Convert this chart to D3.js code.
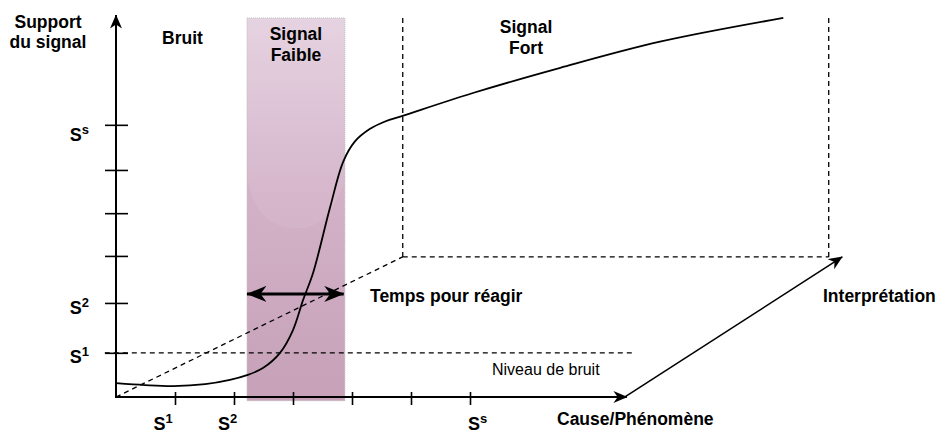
<!DOCTYPE html>
<html><head><meta charset="utf-8">
<script src="https://cdn.jsdelivr.net/npm/d3@7"></script>
<style>
body{margin:0;background:#fff}
text{font-family:"Liberation Sans",Arial,Helvetica,sans-serif;fill:#000}
</style>
</head><body>
<svg id="c" width="937" height="434"></svg>
<script>
// ---- data (abstract units) ----
const curveX = [0, 0.49, 0.97, 1.51, 1.93, 2.22, 2.49, 2.78, 3.0, 3.17, 3.34, 3.63, 3.85, 4.05, 4.3, 4.56, 4.86, 6.05, 7.53, 9.22, 11.31];
const curveY = [0.29, 0.25, 0.23, 0.27, 0.36, 0.46, 0.61, 0.93, 1.41, 2.04, 2.61, 4.0, 4.95, 5.38, 5.64, 5.8, 5.92, 6.4, 6.93, 7.48, 7.98];
const xTickValues = [1, 2, 3, 4, 5, 6];
const yTickValues = [0.93, 1.98, 2.97, 3.87, 4.78, 5.73];
const xLabelBase = ["S", "S", "S"];
const xLabelSup = ["1", "2", "s"];
const xLabelPos = [0.8, 1.89, 6.13];
const yLabelBase = ["S", "S", "S"];
const yLabelSup = ["1", "2", "s"];
const yLabelPos = [0.84, 1.87, 5.52];
const weakBand = [2.22, 3.88];
const bandTop = 7.98;
const noiseLevel = 0.93;
const noiseEnd = 8.8;
const cornerX = 4.86, cornerY = 2.95;
const interpX = 12.08;
const dashTop = 7.98;
const xAxisEnd = 8.66;
const yAxisEnd = 8.04;
const diagStart = [8.6, -0.02];
const diagEnd = [12.31, 2.95];
const reactY = 2.17;
const reactSpan = [2.22, 3.86];

// ---- scales ----
const x = d3.scaleLinear().domain([0, 14]).range([116, 942]);
const y = d3.scaleLinear().domain([0, 8]).range([397, 17]);

const svg = d3.select("#c");
const defs = svg.append("defs");

function marker(id, w, l) {
  defs.append("marker").attr("id", id).attr("viewBox", `0 0 ${l} ${w}`)
    .attr("refX", l - 0.5).attr("refY", w / 2)
    .attr("markerWidth", l).attr("markerHeight", w)
    .attr("markerUnits", "userSpaceOnUse").attr("orient", "auto-start-reverse")
    .append("path").attr("d", `M0,0 L${l},${w/2} L0,${w} L${l*0.3},${w/2} Z`).attr("fill", "#000");
}
marker("ah", 12, 14);
marker("ahBig", 16, 20);

const grad = defs.append("linearGradient").attr("id", "pg").attr("x1", 0).attr("x2", 0).attr("y1", 0).attr("y2", 1);
grad.append("stop").attr("offset", "0%").attr("stop-color", "#e4d0df");
grad.append("stop").attr("offset", "45%").attr("stop-color", "#d3b2c8");
grad.append("stop").attr("offset", "100%").attr("stop-color", "#c6a1b8");

// ---- weak signal band ----
const bx0 = x(weakBand[0]), bx1 = x(weakBand[1]);
svg.append("rect").attr("x", bx0).attr("y", y(bandTop)).attr("width", bx1 - bx0)
  .attr("height", y(-0.08) - y(bandTop)).attr("fill", "url(#pg)")
  .attr("stroke", "#c4c4c4").attr("stroke-width", 1).attr("stroke-dasharray", "1,1");
// glossy lobe
const gTop = y(bandTop), gBot = y(3.56), gMid = y(4.5);
svg.append("path")
  .attr("d", `M${bx0+1},${gTop+1} L${bx1-1},${gTop+1} L${bx1-1},${gMid} Q${(bx0+bx1)/2+30},${gBot+4} ${(bx0+bx1)/2},${gBot} Q${bx0+10},${gBot} ${bx0+1},${gMid-2} Z`)
  .attr("fill", "#ffffff").attr("opacity", 0.07);

// ---- dashed guides ----
const dash = "5,4";
const dashed = (x1, y1, x2, y2) => svg.append("line")
  .attr("x1", x(x1)).attr("y1", y(y1)).attr("x2", x(x2)).attr("y2", y(y2))
  .attr("stroke", "#000").attr("stroke-width", 1.3).attr("stroke-dasharray", dash);
dashed(-0.19, noiseLevel, noiseEnd, noiseLevel);
dashed(0, 0, cornerX, cornerY);
dashed(cornerX, cornerY, interpX, cornerY);
dashed(cornerX, dashTop, cornerX, cornerY);
dashed(interpX, dashTop, interpX, cornerY);

// ---- axes ----
svg.append("line").attr("x1", x(0)).attr("y1", y(0)).attr("x2", x(0)).attr("y2", y(yAxisEnd))
  .attr("stroke", "#000").attr("stroke-width", 2).attr("marker-end", "url(#ah)");
svg.append("line").attr("x1", x(0) - 1).attr("y1", y(0)).attr("x2", x(xAxisEnd)).attr("y2", y(0))
  .attr("stroke", "#000").attr("stroke-width", 2).attr("marker-end", "url(#ah)");
svg.append("line").attr("x1", x(diagStart[0])).attr("y1", y(diagStart[1]))
  .attr("x2", x(diagEnd[0])).attr("y2", y(diagEnd[1]))
  .attr("stroke", "#000").attr("stroke-width", 1.6).attr("marker-end", "url(#ah)");

const yAx = svg.append("g").attr("transform", `translate(${x(0) + 12},0)`)
  .call(d3.axisLeft(y).tickValues(yTickValues).tickSize(23).tickFormat(""));
yAx.select(".domain").remove();
yAx.selectAll(".tick line").attr("stroke", "#000").attr("stroke-width", 1.6);

const xAx = svg.append("g").attr("transform", `translate(0,${y(0) - 5})`)
  .call(d3.axisBottom(x).tickValues(xTickValues).tickSize(13).tickFormat(""));
xAx.select(".domain").remove();
xAx.selectAll(".tick line").attr("stroke", "#000").attr("stroke-width", 1.6);

// ---- curve ----
const line = d3.line().x(d => x(d[0])).y(d => y(d[1])).curve(d3.curveCatmullRom.alpha(0.5));
svg.append("path").datum(curveX.map((v, i) => [v, curveY[i]]))
  .attr("d", line).attr("fill", "none").attr("stroke", "#000").attr("stroke-width", 1.8);

// ---- reaction-time double arrow ----
svg.append("line").attr("x1", x(reactSpan[0])).attr("y1", y(reactY))
  .attr("x2", x(reactSpan[1])).attr("y2", y(reactY))
  .attr("stroke", "#000").attr("stroke-width", 3)
  .attr("marker-start", "url(#ahBig)").attr("marker-end", "url(#ahBig)");

// ---- tick labels with superscripts ----
function supLabel(px, py, base, sup, anchor) {
  const t = svg.append("text").attr("x", px).attr("y", py).attr("text-anchor", anchor)
    .attr("font-size", 18).attr("font-weight", "bold");
  t.append("tspan").text(base);
  t.append("tspan").attr("dy", -7).attr("font-size", 13).text(sup);
}
yLabelPos.forEach((v, i) => supLabel(89, y(v) + 6, yLabelBase[i], yLabelSup[i], "end"));
xLabelPos.forEach((v, i) => supLabel(x(v), 430, xLabelBase[i], xLabelSup[i], "middle"));

// ---- text annotations ----
function label(txt, px, py, opts = {}) {
  svg.append("text").attr("x", px).attr("y", py)
    .attr("text-anchor", opts.anchor || "start")
    .attr("font-size", opts.size || 17.5)
    .attr("font-weight", opts.weight || "bold").text(txt);
}
label("Support", 48, 28, {anchor: "middle"});
label("du signal", 48, 48, {anchor: "middle"});
label("Bruit", 162, 44);
label("Signal", (bx0 + bx1) / 2, 40, {anchor: "middle"});
label("Faible", (bx0 + bx1) / 2, 61, {anchor: "middle"});
label("Signal", 526, 33, {anchor: "middle"});
label("Fort", 526, 54, {anchor: "middle"});
label("Temps pour réagir", 370, 302);
label("Interprétation", 823, 302);
label("Cause/Phénomène", 557, 425);
label("Niveau de bruit", 492, 375, {weight: "normal", size: 16});
</script>
</body></html>
